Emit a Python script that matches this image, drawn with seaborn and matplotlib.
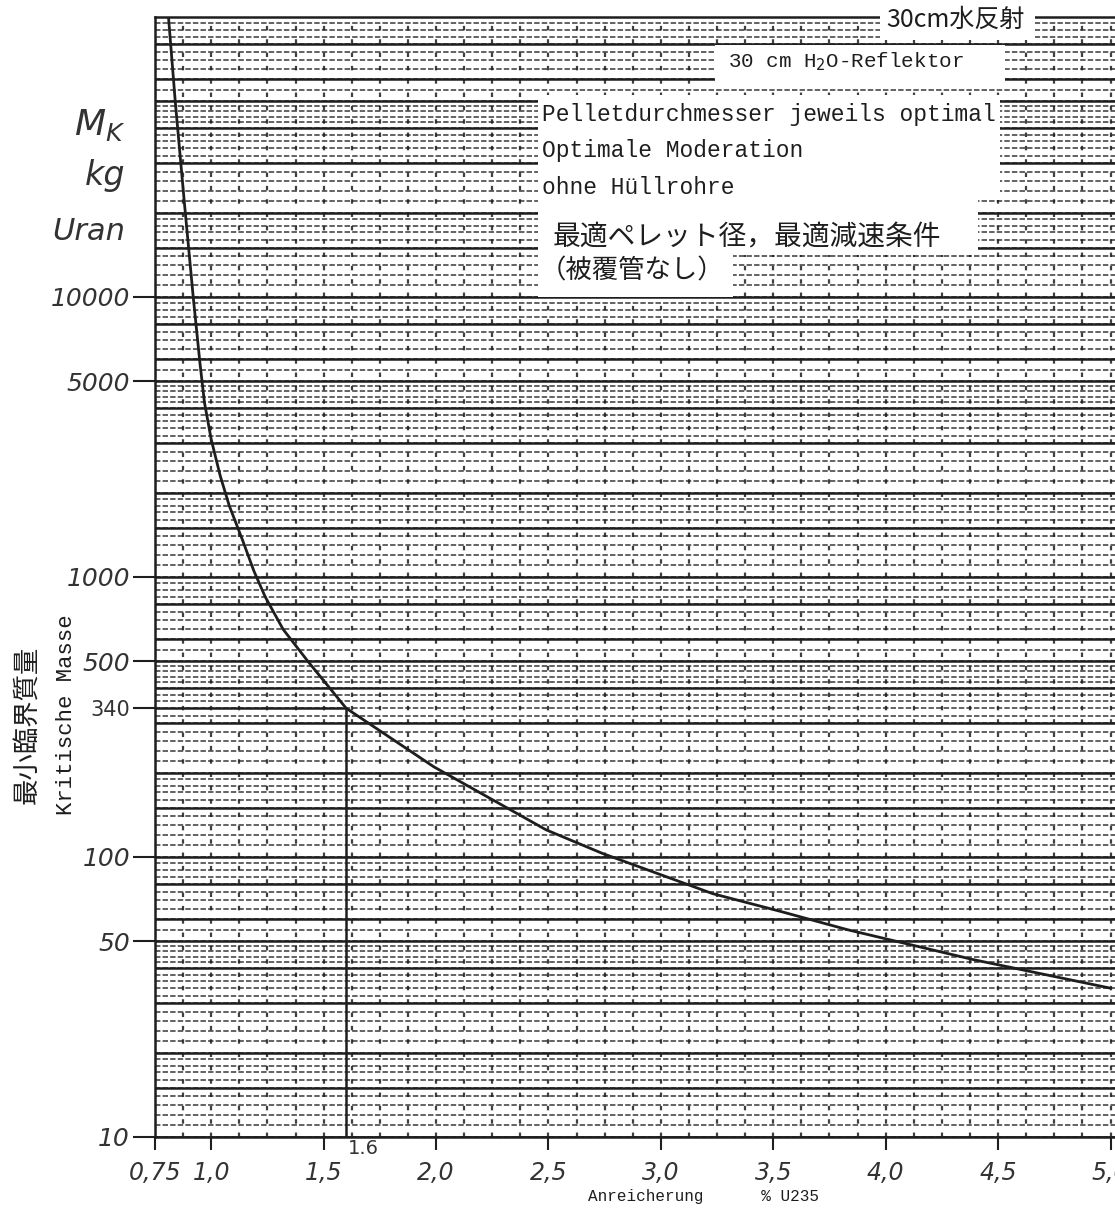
import numpy as np
import matplotlib
matplotlib.use("Agg")
import matplotlib.pyplot as plt
import seaborn as sns
from matplotlib.patches import Rectangle
from matplotlib.ticker import FixedLocator, NullFormatter

# enrichment (% U235) vs minimum critical mass (kg uranium)
enrich = [0.81, 0.84, 0.88, 0.92, 0.95, 0.97, 1.00, 1.04, 1.08, 1.14, 1.19, 1.24,
          1.32, 1.43, 1.60, 1.99, 2.49, 2.74, 3.23, 3.53, 3.83, 4.39, 5.0]
mass = [100000, 50000, 22000, 10000, 5800, 4200, 3100, 2300, 1800, 1350, 1050, 850,
        650, 500, 340, 210, 125, 103, 74, 64, 55, 43, 34]

ref_enrich = 1.6
ref_mass = 340

x_ticks = [0.75, 1.0, 1.5, 2.0, 2.5, 3.0, 3.5, 4.0, 4.5, 5.0]
x_labels = ["0,75", "1,0", "1,5", "2,0", "2,5", "3,0", "3,5", "4,0", "4,5", "5,0"]
y_ticks = [10, 50, 100, 500, 1000, 5000, 10000]
y_labels = ["10", "50", "100", "500", "1000", "5000", "10000"]

sns.set_style("white")
plt.rcParams['font.family'] = ['DejaVu Sans', 'Noto Sans CJK JP']

W, H = 1115, 1212
fig = plt.figure(figsize=(W / 100, H / 100), dpi=100)


def fx(x):
    return x / W


def fy(y):
    return 1 - y / H


ink = "#1e1e1e"
ax = fig.add_axes([fx(155), fy(1137), (W - 155) / W, (1137 - 17) / H])
ax.set_yscale("log")
ax.set_xlim(0.75, 5.02)
ax.set_ylim(10, 100000)

# graph paper: dense horizontal rules, sparse dotted verticals
fine = []
for dec in [10, 100, 1000, 10000]:
    fine += [dec * v for v in np.arange(1.0, 2.0, 0.1)]
    fine += [dec * v for v in np.arange(2.0, 5.0, 0.2)]
    fine += [dec * v for v in np.arange(5.0, 10.0, 0.5)]
heavy = []
for dec in [10, 100, 1000, 10000]:
    heavy += [dec * v for v in [1, 1.5, 2, 3, 4, 5, 6, 8]]
for v in fine:
    ax.axhline(v, color=ink, lw=1.3, dashes=(3, 1.2), alpha=0.75, zorder=1)
for v in heavy:
    ax.axhline(v, color=ink, lw=1.8, zorder=1)
for v in np.arange(0.75, 5.02, 0.125):
    ax.axvline(v, color=ink, lw=1.6, dashes=(2, 4), alpha=0.85, zorder=1)

sns.lineplot(x=enrich, y=mass, ax=ax, color=ink, lw=2.0, zorder=3, sort=False)
ax.plot([0.75, ref_enrich, ref_enrich], [ref_mass, ref_mass, 10], color=ink, lw=1.8, zorder=3)

ax.set_xticks(x_ticks)
ax.set_xticklabels(x_labels, fontsize=17, style="italic")
ax.set_yticks(y_ticks + [ref_mass])
ax.set_yticklabels(y_labels + [str(ref_mass)], fontsize=18, style="italic")
ax.get_yticklabels()[-1].set_fontstyle("normal")
ax.get_yticklabels()[-1].set_fontsize(15)
ax.yaxis.set_minor_locator(FixedLocator([]))
ax.yaxis.set_minor_formatter(NullFormatter())
ax.tick_params(axis="y", which="major", left=True, direction="out", length=16, width=1.5,
               color=ink, pad=2)
ax.tick_params(axis="x", which="major", bottom=True, direction="out", length=9, width=1.5,
               color=ink, pad=8)
for s in ["left", "bottom", "top"]:
    ax.spines[s].set_color(ink)
    ax.spines[s].set_linewidth(1.8)
ax.spines["right"].set_visible(False)
for lab in ax.get_xticklabels() + ax.get_yticklabels():
    lab.set_color("#333333")

fig.text(fx(348), fy(1148), "1.6", fontsize=14, color="#333333", ha="left", va="center")

# white label boxes over the grid
boxes = [(880, 0, 155, 40), (715, 45, 290, 40), (538, 95, 462, 105),
         (538, 200, 440, 55), (538, 255, 195, 42)]
for bx, by, bw, bh in boxes:
    fig.add_artist(Rectangle((fx(bx), fy(by + bh)), bw / W, bh / H,
                             transform=fig.transFigure, facecolor="white",
                             edgecolor="none", zorder=5))

cjk = ['Noto Sans CJK JP', 'DejaVu Sans']
mono = ['Liberation Mono', 'DejaVu Sans Mono']
fig.text(fx(955), fy(20), "30cm水反射", fontsize=18, family=cjk, color=ink,
         ha="center", va="center", zorder=6)
fig.text(fx(728), fy(62), "30 cm H$_2$O-Reflektor", fontsize=15, family=mono, color=ink,
         ha="left", va="center", zorder=6)
fig.text(fx(542), fy(115), "Pelletdurchmesser jeweils optimal", fontsize=16.5, family=mono,
         color=ink, ha="left", va="center", zorder=6)
fig.text(fx(542), fy(151), "Optimale Moderation", fontsize=16.5, family=mono,
         color=ink, ha="left", va="center", zorder=6)
fig.text(fx(542), fy(187), "ohne Hüllrohre", fontsize=16.5, family=mono,
         color=ink, ha="left", va="center", zorder=6)
fig.text(fx(553), fy(236), "最適ペレット径，最適減速条件", fontsize=20, family=cjk,
         color=ink, ha="left", va="center", zorder=6)
fig.text(fx(540), fy(271), "（被覆管なし）", fontsize=19, family=cjk,
         color=ink, ha="left", va="center", zorder=6)

fig.text(fx(125), fy(125), "$M_K$", fontsize=26, style="italic", color="#333333", ha="right", va="center")
fig.text(fx(125), fy(175), "kg", fontsize=24, style="italic", color="#333333", ha="right", va="center")
fig.text(fx(125), fy(232), "Uran", fontsize=22, style="italic", color="#333333", ha="right", va="center")

fig.text(fx(27), fy(725), "最小臨界質量", fontsize=19, family=cjk, rotation=90,
         color=ink, ha="center", va="center")
fig.text(fx(66), fy(715), "Kritische Masse", fontsize=16, family=mono, rotation=90,
         color=ink, ha="center", va="center")
fig.text(fx(588), fy(1196), "Anreicherung      % U235", fontsize=11.5, family=mono,
         color=ink, ha="left", va="center")

fig.savefig("out.png", dpi=100, facecolor="white")
